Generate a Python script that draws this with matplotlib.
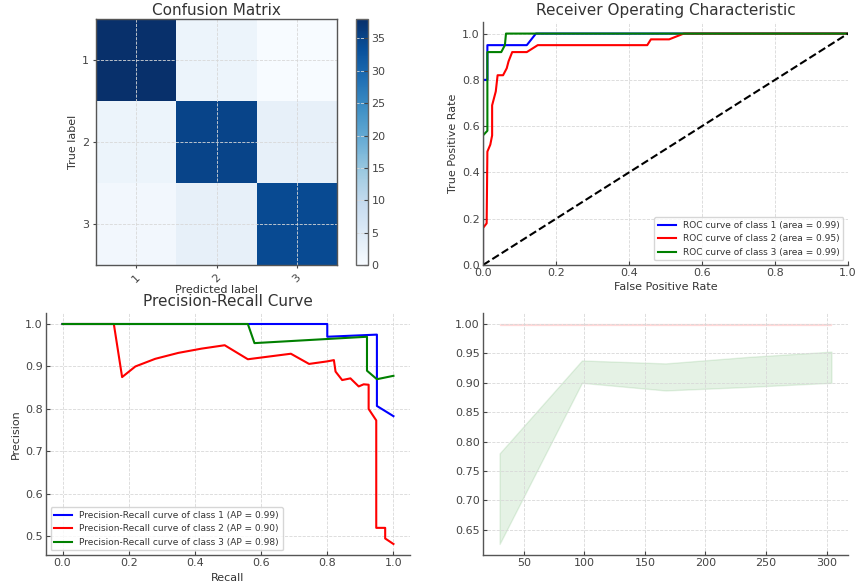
import numpy as np
import matplotlib
matplotlib.use("Agg")
import matplotlib.pyplot as plt

# ---- data ----
classes = ["1", "2", "3"]
conf_mat = [[38, 2, 0],
            [2, 35, 3],
            [1, 3, 34]]

roc_fpr_1 = [0.0, 0.0, 0.012, 0.012, 0.12, 0.145, 1.0]
roc_tpr_1 = [0.0, 0.80, 0.80, 0.95, 0.95, 1.0, 1.0]
roc_fpr_2 = [0.0, 0.0, 0.01, 0.012, 0.02, 0.025, 0.025, 0.035, 0.04, 0.055,
             0.065, 0.07, 0.08, 0.12, 0.15, 0.45, 0.46, 0.51, 0.55, 1.0]
roc_tpr_2 = [0.0, 0.16, 0.18, 0.49, 0.52, 0.56, 0.69, 0.75, 0.82, 0.82,
             0.85, 0.88, 0.92, 0.92, 0.95, 0.95, 0.975, 0.975, 1.0, 1.0]
roc_fpr_3 = [0.0, 0.0, 0.012, 0.012, 0.05, 0.06, 0.063, 1.0]
roc_tpr_3 = [0.0, 0.56, 0.58, 0.92, 0.92, 0.95, 1.0, 1.0]
roc_auc = [0.99, 0.95, 0.99]

pr_rec_1 = [0.0, 0.80, 0.80, 0.95, 0.95, 1.0]
pr_prec_1 = [1.0, 1.0, 0.97, 0.975, 0.807, 0.783]
pr_rec_2 = [0.0, 0.155, 0.18, 0.22, 0.28, 0.35, 0.42, 0.49, 0.56, 0.69, 0.745,
            0.80, 0.82, 0.825, 0.845, 0.87, 0.895, 0.91, 0.925, 0.925, 0.948,
            0.948, 0.975, 0.975, 1.0]
pr_prec_2 = [1.0, 1.0, 0.875, 0.90, 0.918, 0.932, 0.942, 0.95, 0.917, 0.93,
             0.906, 0.912, 0.915, 0.888, 0.868, 0.872, 0.853, 0.858, 0.857,
             0.80, 0.773, 0.52, 0.52, 0.495, 0.482]
pr_rec_3 = [0.0, 0.56, 0.58, 0.92, 0.92, 0.95, 1.0]
pr_prec_3 = [1.0, 1.0, 0.955, 0.97, 0.89, 0.87, 0.878]
pr_ap = [0.99, 0.90, 0.98]

lc_sizes = [30, 98, 167, 235, 304]
lc_train_lo = [0.999, 0.999, 0.999, 0.999, 0.999]
lc_train_hi = [1.0, 1.0, 1.0, 1.0, 1.0]
lc_test_lo = [0.626, 0.900, 0.887, 0.893, 0.900]
lc_test_hi = [0.780, 0.938, 0.933, 0.944, 0.953]

# ---- style ----
txt = "#333333"
plt.rcParams.update({
    "font.family": "DejaVu Sans",
    "font.size": 8,
    "text.color": txt,
    "axes.labelcolor": txt,
    "axes.edgecolor": "#555555",
    "axes.linewidth": 1.0,
    "xtick.color": "#444444",
    "ytick.color": "#444444",
    "xtick.labelsize": 8,
    "ytick.labelsize": 8,
    "xtick.direction": "in",
    "ytick.direction": "in",
    "xtick.major.size": 3,
    "ytick.major.size": 3,
    "xtick.major.pad": 2.5,
    "ytick.major.pad": 2.5,
    "axes.titlesize": 11,
    "axes.titlepad": 5,
    "axes.labelsize": 8,
    "axes.labelpad": 2.5,
    "axes.grid": True,
    "grid.color": "#d8d8d8",
    "grid.linestyle": "--",
    "grid.linewidth": 0.6,
    "axes.spines.top": False,
    "axes.spines.right": False,
    "legend.fontsize": 6.5,
    "legend.edgecolor": "#cccccc",
})

W, H = 855, 585
fig = plt.figure(figsize=(W / 100, H / 100), dpi=100)

def pos(x0, y0, x1, y1):
    return [x0 / W, 1 - y1 / H, (x1 - x0) / W, (y1 - y0) / H]

# confusion matrix
ax1 = fig.add_axes(pos(96, 19, 337, 265))
im = ax1.imshow(conf_mat, cmap="Blues", aspect="auto", vmin=0, vmax=38)
ax1.set_title("Confusion Matrix", pad=3)
ax1.set_xticks(range(3))
ax1.set_xticklabels(classes, rotation=45)
ax1.set_yticks(range(3))
ax1.set_yticklabels(classes)
ax1.tick_params(direction="out", length=2.5)
ax1.set_xlabel("Predicted label", labelpad=1)
ax1.set_ylabel("True label")
for s in ax1.spines.values():
    s.set_visible(True)
cax = fig.add_axes(pos(356, 19, 368, 265))
cb = fig.colorbar(im, cax=cax)
cb.outline.set_edgecolor("#666666")
cax.tick_params(direction="in", length=3)

# ROC
ax2 = fig.add_axes(pos(483, 22, 848, 265))
ax2.plot(roc_fpr_1, roc_tpr_1, color="blue", lw=1.5,
         label="ROC curve of class 1 (area = %.2f)" % roc_auc[0])
ax2.plot(roc_fpr_2, roc_tpr_2, color="red", lw=1.5,
         label="ROC curve of class 2 (area = %.2f)" % roc_auc[1])
ax2.plot(roc_fpr_3, roc_tpr_3, color="green", lw=1.5,
         label="ROC curve of class 3 (area = %.2f)" % roc_auc[2])
ax2.plot([0, 1], [0, 1], "k--", lw=1.5)
ax2.set_xlim(0.0, 1.0)
ax2.set_ylim(0.0, 1.05)
ax2.set_xlabel("False Positive Rate")
ax2.set_ylabel("True Positive Rate")
ax2.set_title("Receiver Operating Characteristic")
ax2.legend(loc="lower right")

# Precision-Recall
ax3 = fig.add_axes(pos(46, 313, 410, 555))
ax3.plot(pr_rec_2, pr_prec_2, color="red", lw=1.5,
         label="Precision-Recall curve of class 2 (AP = %.2f)" % pr_ap[1])
ax3.plot(pr_rec_1, pr_prec_1, color="blue", lw=1.5,
         label="Precision-Recall curve of class 1 (AP = %.2f)" % pr_ap[0])
ax3.plot(pr_rec_3, pr_prec_3, color="green", lw=1.5,
         label="Precision-Recall curve of class 3 (AP = %.2f)" % pr_ap[2])
h, l = ax3.get_legend_handles_labels()
ax3.legend([h[1], h[0], h[2]], [l[1], l[0], l[2]], loc="lower left")
ax3.set_xlabel("Recall", labelpad=3)
ax3.set_ylabel("Precision")
ax3.set_title("Precision-Recall Curve")

# learning curve bands
ax4 = fig.add_axes(pos(483, 313, 848, 555))
ax4.fill_between(lc_sizes, lc_train_lo, lc_train_hi, color="red", alpha=0.1)
ax4.fill_between(lc_sizes, lc_test_lo, lc_test_hi, color="green", alpha=0.1)

fig.savefig("out.png", dpi=100)
